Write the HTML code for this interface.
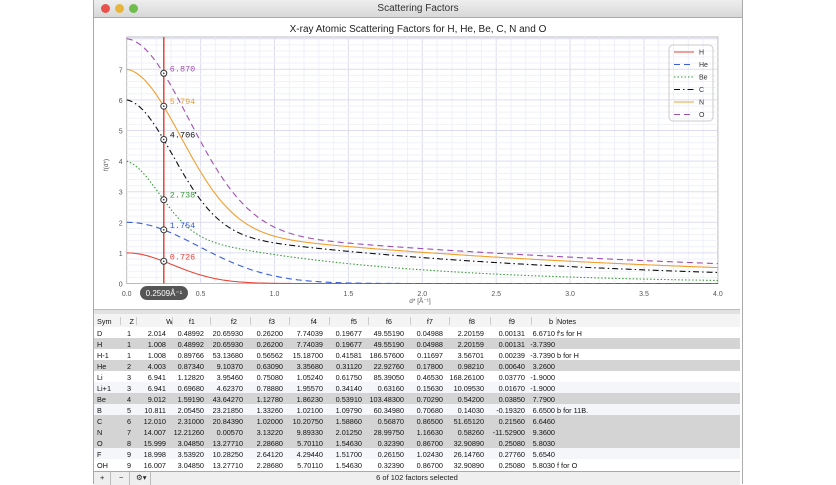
<!DOCTYPE html>
<html><head><meta charset="utf-8"><style>
body{margin:0;width:836px;height:484px;background:#fff;position:relative;overflow:hidden;font-family:"Liberation Sans",sans-serif}
.win{position:absolute;left:93px;top:0;width:648px;height:484px;border-left:1px solid #aaa;border-right:1px solid #aaa;background:#fff}
.tb{position:absolute;left:0;top:0;width:648px;height:17px;background:linear-gradient(#eee,#d8d8d8);border-bottom:1px solid #aaa;font-size:10px;text-align:center;line-height:17px;color:#333}
.dot{position:absolute;top:4px;width:9px;height:9px;border-radius:50%}
.t{position:absolute;font-size:7.3px;color:#111;white-space:nowrap}
.r{position:absolute;left:94px;width:646px;height:11px}
</style></head><body>
<div class="win">
<div class="tb">Scattering Factors
<div class="dot" style="left:7px;background:#e9514c"></div>
<div class="dot" style="left:21px;background:#e8b43c"></div>
<div class="dot" style="left:35px;background:#6ebd4c"></div>
</div>
</div>
<svg id="ch" style="position:absolute;left:0;top:0" width="836" height="310"></svg>
<div style="position:absolute;left:94px;top:309px;width:646px;height:4px;background:#e2e2e2;border-top:1px solid #bbb;border-bottom:1px solid #bbb"></div>
<div id="tbl"></div>
<div style="position:absolute;left:94px;top:471px;width:646px;height:13px;background:#efefef;border-top:1px solid #aaa;font-size:7.5px;text-align:center;line-height:12px;color:#222">6 of 102 factors selected
<span style="position:absolute;left:6px">+</span><span style="position:absolute;left:16px;top:0;height:13px;border-left:1px solid #bbb"></span><span style="position:absolute;left:25px">−</span><span style="position:absolute;left:35px;top:0;height:13px;border-left:1px solid #bbb"></span><span style="position:absolute;left:42px">⚙▾</span><span style="position:absolute;left:56px;top:0;height:13px;border-left:1px solid #bbb"></span></div>
<script>
var s=document.getElementById('ch'),h='';
var X0=126.7,XS=147.8,Y0=283.5,YS=30.6,T=37;
function px(x){return X0+x*XS}function py(y){return Y0-y*YS}
h+='<text x="418" y="32" font-size="10" text-anchor="middle" fill="#222" font-family="Liberation Sans">X-ray Atomic Scattering Factors for H, He, Be, C, N and O</text>';
h+='<rect x="'+X0+'" y="'+T+'" width="'+(px(4)-X0)+'" height="'+(Y0-T)+'" fill="#fff" stroke="#bbb"/>';
for(var i=1;i<40;i++){var x=px(i*0.1);h+='<line x1="'+x+'" x2="'+x+'" y1="'+T+'" y2="'+Y0+'" stroke="'+(i%5?'#f0f1fa':'#dcdef0')+'"/>'}
for(var i=1;i<=40;i++){var y=py(i*0.2);if(y<T)break;h+='<line x1="'+X0+'" x2="'+px(4)+'" y1="'+y+'" y2="'+y+'" stroke="'+(i%5?'#f0f1fa':'#dcdef0')+'"/>'}
for(var i=0;i<=8;i++){var x=px(i*0.5);h+='<text x="'+x+'" y="296" font-size="7" text-anchor="middle" fill="#555" font-family="Liberation Sans">'+(i*0.5).toFixed(1)+'</text>'}
for(var i=0;i<=7;i++){h+='<text x="'+(X0-4)+'" y="'+(py(i)+3)+'" font-size="7" text-anchor="end" fill="#555" font-family="Liberation Sans">'+i+'</text>'}
h+='<text x="420" y="303" font-size="6.5" text-anchor="middle" fill="#555" font-family="Liberation Sans">d* [Å⁻¹]</text>';
h+='<text x="108" y="165" font-size="6.5" fill="#555" transform="rotate(-90 108 165)" text-anchor="middle" font-family="Liberation Sans">f(d*)</text>';
var S=[['H','#e8473a','',function(x){return Math.exp(-5.12*x*x)}],
['He','#3b5fd8','6,4',function(x){return 2*Math.exp(-2.1*x*x)}],
['Be','#3a9a3a','1.5,2',function(x){return 2*Math.exp(-9.9*x*x)+2*Math.exp(-0.75*x)}],
['C','#111','6,3,1.5,3',function(x){return 4*Math.exp(-5.1*x*x)+2*Math.exp(-0.429*x)}],
['N','#f0a030','',function(x){return 5*Math.exp(-3.75*x*x)+2*Math.exp(-0.337*x)}],
['O','#a050b0','6,4',function(x){return 6*Math.exp(-2.9*x*x)+2*Math.exp(-0.281*x)}]];
var vals=['0.726','1.754','2.738','4.706','5.794','6.870'];
S.forEach(function(c,k){var d='';for(var x=0;x<=4.001;x+=0.01){d+=(x?'L':'M')+px(x).toFixed(1)+' '+py(c[3](x)).toFixed(1)}
h+='<path d="'+d+'" fill="none" stroke="'+c[1]+'" stroke-width="1.1" stroke-dasharray="'+c[2]+'"/>';
var ly=52+k*12.5;h+='<line x1="674" x2="694" y1="'+ly+'" y2="'+ly+'" stroke="'+c[1]+'" stroke-dasharray="'+c[2]+'"/><text x="699" y="'+(ly+2.5)+'" font-size="7" fill="#333" font-family="Liberation Sans">'+c[0]+'</text>'});
h+='<rect x="669" y="45" width="44" height="76" rx="4" fill="none" stroke="#ccc"/>';
var vx=px(0.2509);h+='<line x1="'+vx+'" x2="'+vx+'" y1="'+T+'" y2="'+Y0+'" stroke="#e8473a" stroke-width="1.5"/>';
S.forEach(function(c,k){var y=py(parseFloat(vals[k]));h+='<circle cx="'+vx+'" cy="'+y+'" r="3" fill="#fff" stroke="#333"/><circle cx="'+vx+'" cy="'+y+'" r="0.8" fill="#333"/><text x="'+(vx+6)+'" y="'+(y-2)+'" font-size="8.5" fill="'+c[1]+'" font-family="Liberation Mono">'+vals[k]+'</text>'});
h+='<rect x="140" y="286" width="48" height="14" rx="7" fill="#555"/><text x="164" y="296" font-size="8" fill="#fff" text-anchor="middle" font-family="Liberation Sans">0.2509Å⁻¹</text>';
s.innerHTML=h;
var R=[['Sym','Z','W','f1','f2','f3','f4','f5','f6','f7','f8','f9','b','Notes'],
['D','1','2.014','0.48992','20.65930','0.26200','7.74039','0.19677','49.55190','0.04988','2.20159','0.00131','6.6710',"f's for H"],
['H','1','1.008','0.48992','20.65930','0.26200','7.74039','0.19677','49.55190','0.04988','2.20159','0.00131','-3.7390',''],
['H-1','1','1.008','0.89766','53.13680','0.56562','15.18700','0.41581','186.57600','0.11697','3.56701','0.00239','-3.7390','b for H'],
['He','2','4.003','0.87340','9.10370','0.63090','3.35680','0.31120','22.92760','0.17800','0.98210','0.00640','3.2600',''],
['Li','3','6.941','1.12820','3.95460','0.75080','1.05240','0.61750','85.39050','0.46530','168.26100','0.03770','-1.9000',''],
['Li+1','3','6.941','0.69680','4.62370','0.78880','1.95570','0.34140','0.63160','0.15630','10.09530','0.01670','-1.9000',''],
['Be','4','9.012','1.59190','43.64270','1.12780','1.86230','0.53910','103.48300','0.70290','0.54200','0.03850','7.7900',''],
['B','5','10.811','2.05450','23.21850','1.33260','1.02100','1.09790','60.34980','0.70680','0.14030','-0.19320','6.6500','b for 11B.'],
['C','6','12.010','2.31000','20.84390','1.02000','10.20750','1.58860','0.56870','0.86500','51.65120','0.21560','6.6460',''],
['N','7','14.007','12.21260','0.00570','3.13220','9.89330','2.01250','28.99750','1.16630','0.58260','-11.52900','9.3600',''],
['O','8','15.999','3.04850','13.27710','2.28680','5.70110','1.54630','0.32390','0.86700','32.90890','0.25080','5.8030',''],
['F','9','18.998','3.53920','10.28250','2.64120','4.29440','1.51700','0.26150','1.02430','26.14760','0.27760','5.6540',''],
['OH','9','16.007','3.04850','13.27710','2.28680','5.70110','1.54630','0.32390','0.86700','32.90890','0.25080','5.8030','f for O']];
var RX=[131,166,204,243,283,323,362,404,443,484,525,555];
var HX=[134,173,195,237,275,317,357,392,433,475,515,553];
var sel={2:1,4:1,7:1,9:1,10:1,11:1},t='';
R.forEach(function(r,i){var top=i==0?314:327+(i-1)*11;var bg=i==0?'#f4f4f4':sel[i]?'#d4d4d4':(i%2?'#fff':'#f4f6fa');
t+='<div class="r" style="top:'+top+'px;height:'+(i==0?13:11)+'px;background:'+bg+(i==0?';border-bottom:1px solid #bbb':'')+'"></div>';
var cy=top+(i==0?2.5:1.5);
t+='<div class="t" style="left:97px;top:'+cy+'px">'+r[0]+'</div>';
for(var j=1;j<=12;j++){var x=i==0?HX[j-1]:RX[j-1];
t+='<div class="t" style="right:'+(836-x)+'px;top:'+cy+'px">'+r[j]+'</div>'}
t+='<div class="t" style="left:557px;top:'+cy+'px">'+r[13]+'</div>'});
[120,136,172,210,250,289,329,368,410,449,490,531,556].forEach(function(x){t+='<div style="position:absolute;left:'+x+'px;top:317px;height:8px;border-left:1px solid #ccc"></div>'});
document.getElementById('tbl').innerHTML=t;
</script>
</body></html>
